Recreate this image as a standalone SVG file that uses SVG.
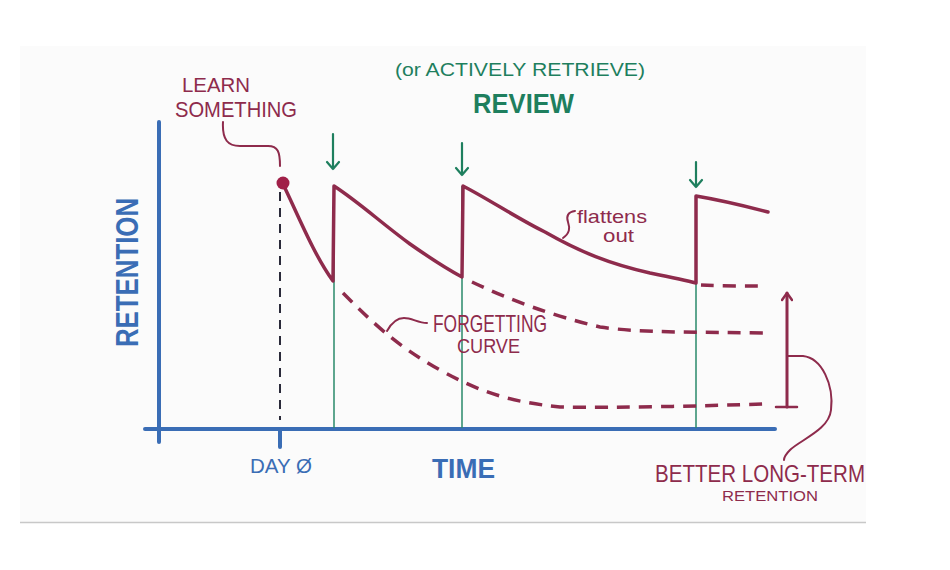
<svg xmlns="http://www.w3.org/2000/svg" width="950" height="570" viewBox="0 0 950 570">
<style>
  .t { font-family: "Liberation Sans", "DejaVu Sans", sans-serif; }
  .red { fill: #8e2b4c; }
  .grn { fill: #1e7f5e; }
  .blu { fill: #3a6db5; }
  .axis { stroke: #3a6db5; stroke-width: 4; fill: none; stroke-linecap: round; }
  .solid { stroke: #8e2b4c; stroke-width: 3.5; fill: none; stroke-linejoin: round; stroke-linecap: round; }
  .dash { stroke: #8e2b4c; stroke-width: 3.5; fill: none; stroke-dasharray: 13 9; }
  .thin { stroke: #8e2b4c; stroke-width: 2; fill: none; stroke-linecap: round; }
  .gline { stroke: #2a8a6a; stroke-width: 1.5; fill: none; }
  .garrow { stroke: #1e7f5e; stroke-width: 2.2; fill: none; stroke-linecap: round; stroke-linejoin: round; }
</style>
<defs>
  <marker id="rhead" viewBox="0 0 12 12" refX="9" refY="6" markerWidth="12" markerHeight="12" markerUnits="userSpaceOnUse" orient="auto">
    <path d="M2,1 L9,6 L2,11" fill="none" stroke="#8e2b4c" stroke-width="2.5" stroke-linecap="round" stroke-linejoin="round"/>
  </marker>
</defs>
<rect x="0" y="0" width="950" height="570" fill="#ffffff"/>
<rect x="20" y="46" width="846" height="476" fill="#fbfbfb"/>
<line x1="20" y1="522.5" x2="866" y2="522.5" stroke="#c8c8c8" stroke-width="1.5"/>

<g id="axes">
  <line class="axis" x1="159" y1="122" x2="159" y2="442"/>
  <line class="axis" x1="145" y1="429" x2="775" y2="429"/>
  <line class="axis" x1="280" y1="429" x2="280" y2="447"/>
</g>

<g id="connectors">
  <!-- green review guides -->
  <line class="gline" x1="334" y1="186" x2="334" y2="428"/>
  <line class="gline" x1="462" y1="186" x2="462" y2="428"/>
  <line class="gline" x1="696" y1="196" x2="696" y2="428"/>
  <!-- green arrows -->
  <path class="garrow" d="M333,134 L333,169 M327,162 L333,169 L339,162"/>
  <path class="garrow" d="M462,143 L462,175 M456,168 L462,175 L468,168"/>
  <path class="garrow" d="M696,162 L696,187 M690,180 L696,187 L702,180"/>
  <!-- day zero dashed -->
  <line x1="280" y1="192" x2="280" y2="420" stroke="#2a2a3a" stroke-width="2" stroke-dasharray="9 7"/>
  <!-- learn something leader -->
  <path class="thin" d="M223,122 C222,140 228,146 240,146 L268,146 C278,146 280,152 280,166"/>
  <!-- solid retention curve -->
  <path class="solid" d="M283,184 C298,215 314,255 333,281 L334,186 C360,203 380,222 410,244 C430,258 445,268 462,277 L463,186 C490,200 520,220 545,232 C580,252 610,264 650,273 C670,277 685,280 696,283 L696,196 C720,200 745,206 768,212"/>
  <!-- dashed forgetting curves -->
  <path class="dash" d="M343,293 C370,320 395,345 440,370 C480,392 510,402 560,407 C620,408 700,406 764,404"/>
  <path class="dash" d="M472,282 C510,300 550,315 600,327 C640,333 700,332 764,333"/>
  <path class="dash" d="M701,285 C720,286 740,286 764,286"/>
  <!-- forgetting curve leader -->
  <path class="thin" d="M387,331 C392,322 398,318 404,318 C412,318 418,323 427,323"/>
  <!-- flattens out leader -->
  <path class="thin" d="M563,238 C570,233 570,228 568,222 C566,216 568,212 575,211"/>
  <!-- better retention arrow -->
  <line class="solid" x1="787" y1="407" x2="787" y2="293" marker-end="url(#rhead)" style="stroke-width:3"/>
  <line class="solid" x1="776" y1="407" x2="797" y2="407" style="stroke-width:2.5"/>
  <path class="thin" d="M787,356 L803,356 C822,358 834,385 831,410 C829,430 800,440 790,450 C786,454 784,457 784,460"/>
</g>

<g id="dot">
  <circle cx="283" cy="183" r="6.5" fill="#a01f48"/>
</g>

<g id="labels">
  <text class="t red" x="182" y="92" font-size="20" textLength="68" lengthAdjust="spacingAndGlyphs">LEARN</text>
  <text class="t red" x="175" y="117" font-size="22" textLength="122" lengthAdjust="spacingAndGlyphs">SOMETHING</text>
  <text class="t grn" x="395" y="76" font-size="18" textLength="250" lengthAdjust="spacingAndGlyphs">(or ACTIVELY RETRIEVE)</text>
  <text class="t grn" x="473" y="113" font-size="28" font-weight="bold" textLength="101" lengthAdjust="spacingAndGlyphs">REVIEW</text>
  <text class="t red" x="577" y="223" font-size="19" textLength="70" lengthAdjust="spacingAndGlyphs">flattens</text>
  <text class="t red" x="603" y="242" font-size="19" textLength="31" lengthAdjust="spacingAndGlyphs">out</text>
  <text class="t red" x="433" y="332" font-size="24" textLength="114" lengthAdjust="spacingAndGlyphs">FORGETTING</text>
  <text class="t red" x="457" y="353" font-size="20" textLength="63" lengthAdjust="spacingAndGlyphs">CURVE</text>
  <text class="t blu" transform="translate(138,347) rotate(-90)" x="0" y="0" font-size="32" font-weight="bold" textLength="149" lengthAdjust="spacingAndGlyphs">RETENTION</text>
  <text class="t blu" x="250" y="473" font-size="21" textLength="62" lengthAdjust="spacingAndGlyphs">DAY Ø</text>
  <text class="t blu" x="432" y="478" font-size="27" font-weight="bold" textLength="63" lengthAdjust="spacingAndGlyphs">TIME</text>
  <text class="t red" x="655" y="482" font-size="24" textLength="210" lengthAdjust="spacingAndGlyphs">BETTER LONG-TERM</text>
  <text class="t red" x="722" y="501" font-size="14" textLength="96" lengthAdjust="spacingAndGlyphs">RETENTION</text>
</g>
</svg>
